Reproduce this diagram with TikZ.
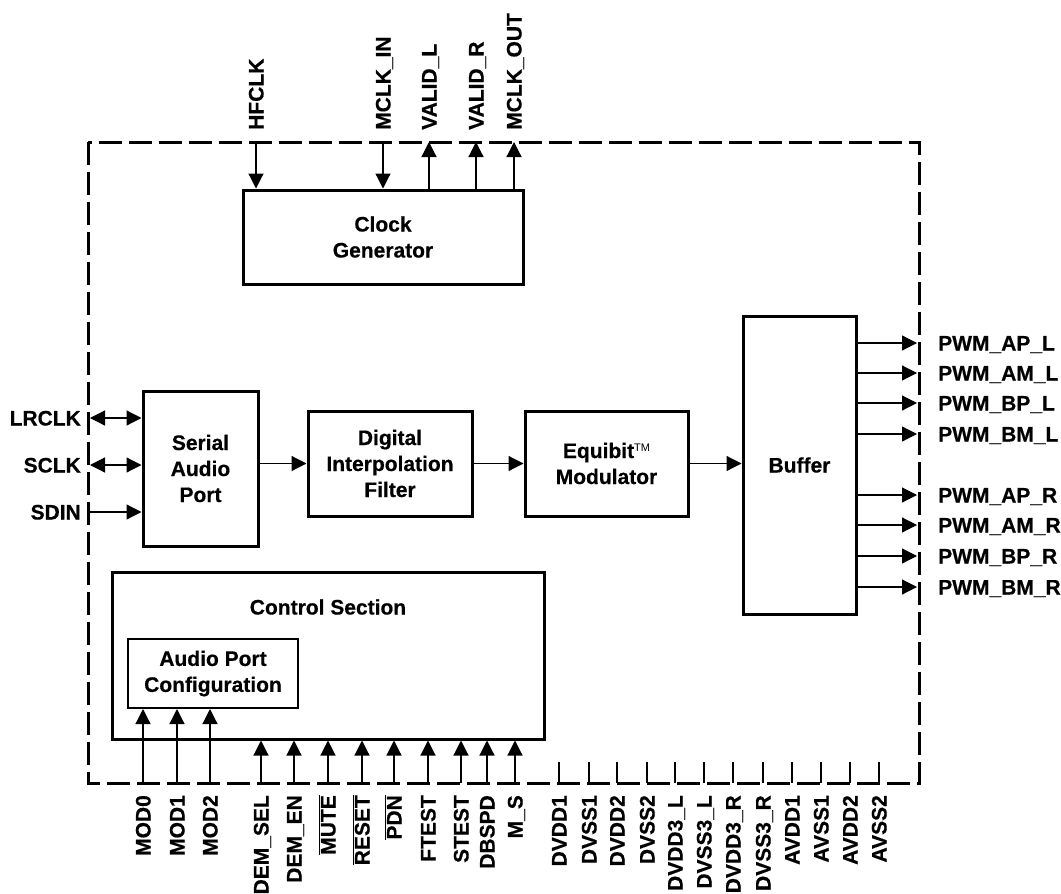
\documentclass[tikz,border=0pt]{standalone}
\usepackage{fontspec}
\setmainfont[BoldFeatures={FakeBold=0.5}]{Liberation Sans}
\usetikzlibrary{arrows.meta}
\newcommand\ovl[1]{$\overline{\hbox{#1}}$}
\tikzset{
  blk/.style={draw, line width=3pt, align=center, inner sep=0pt},
  wire/.style={line width=1.2pt},
  tri/.style={-{Triangle[length=15pt,width=15pt]}},
  dtri/.style={{Triangle[length=15pt,width=15pt]}-{Triangle[length=15pt,width=15pt]}},
  lbl/.style={inner sep=0pt, text height=15pt, text depth=0pt},
  border/.style={line width=3pt, dash pattern=on 23pt off 7pt},
}
\begin{document}
\begin{tikzpicture}[x=1pt,y=-1pt,font=\fontsize{21}{26}\selectfont\bfseries]
\useasboundingbox (0,0) rectangle (1061,894);
% border
\draw[border] (88,142) rectangle (919,783);
% blocks
\node[blk, minimum width=280pt, minimum height=94pt] (clk) at (383,237) {Clock\\Generator};
\node[blk, minimum width=115pt, minimum height=155pt] (sap) at (200.5,468.5) {Serial\\Audio\\Port};
\node[blk, minimum width=164pt, minimum height=105pt] (dif) at (390,463.5) {Digital\\Interpolation\\Filter};
\node[blk, minimum width=163pt, minimum height=105pt] (eqb) at (606.5,463.5) {Equibit{\mdseries\fontsize{11}{11}\selectfont\raisebox{7pt}{TM}}\\Modulator};
\node[blk, minimum width=113pt, minimum height=298pt] (buf) at (799.5,465) {Buffer};
\node[blk, minimum width=432pt, minimum height=167pt] (ctl) at (328,655.5) {};
\node (ctltxt) at (328,607) {Control Section};
\node[blk, line width=2pt, minimum width=170pt, minimum height=69pt] (apc) at (213,673.5) {Audio Port\\Configuration};
% main flow
\draw[wire,tri] (sap.east |- dif.west) -- (dif.west);
\draw[wire,tri] (dif.east) -- (eqb.west);
\draw[wire,tri] (eqb.east) -- (eqb.east -| buf.west);
% top pins
\foreach \n/\x/\t in {hf/256/HFCLK, mi/383/MCLK\_IN, vl/429/VALID\_L, vr/476/VALID\_R, mo/514/MCLK\_OUT}{
  \coordinate (\n) at (\x,142);
  \node[lbl, rotate=90, anchor=west] (\n lbl) at (\x,130) {\t};
}
\draw[wire,tri] (hf) -- (hf |- clk.north);
\draw[wire,tri] (mi) -- (mi |- clk.north);
\draw[wire,tri] (vl |- clk.north) -- (vl);
\draw[wire,tri] (vr |- clk.north) -- (vr);
\draw[wire,tri] (mo |- clk.north) -- (mo);
% left pins
\foreach \n/\y/\t in {lr/418/LRCLK, sc/465/SCLK, sd/512/SDIN}{
  \coordinate (\n) at (90,\y);
  \node[lbl, anchor=east] (\n lbl) at (81,\y) {\t};
}
\draw[wire,dtri] (lr) -- (lr -| sap.west);
\draw[wire,dtri] (sc) -- (sc -| sap.west);
\draw[wire,tri] (sd) -- (sd -| sap.west);
% right pins
\foreach \n/\y/\t in {o1/343/PWM\_AP\_L, o2/373/PWM\_AM\_L, o3/403/PWM\_BP\_L, o4/434/PWM\_BM\_L, o5/495/PWM\_AP\_R, o6/525/PWM\_AM\_R, o7/556/PWM\_BP\_R, o8/587/PWM\_BM\_R}{
  \coordinate (\n) at (917,\y);
  \node[lbl, anchor=west] (\n lbl) at (938,\y) {\t};
  \draw[wire,tri] (buf.east |- \n) -- (\n);
}
% bottom pins to audio port configuration
\foreach \n/\x/\t in {md0/143/MOD0, md1/177/MOD1, md2/210/MOD2}{
  \coordinate (\n) at (\x,783);
  \node[lbl, rotate=90, anchor=east] (\n lbl) at (\x,795) {\t};
  \draw[wire,tri] (\n) -- (\n |- apc.south);
}
% bottom pins to control section
\foreach \n/\x/\t in {ds/261/DEM\_SEL, de/294/DEM\_EN, mu/328/\ovl{MUTE}, rs/362/\ovl{RESET}, pd/394/\ovl{PDN}, ft/428/FTEST, st/461/STEST, db/487/DBSPD, ms/515/M\_S}{
  \coordinate (\n) at (\x,783);
  \node[lbl, rotate=90, anchor=east] (\n lbl) at (\x,795) {\t};
  \draw[wire,tri] (\n) -- (\n |- ctl.south);
}
% power pins
\foreach \n/\x/\t in {p1/559/DVDD1, p2/589/DVSS1, p3/617/DVDD2, p4/647/DVSS2, p5/675/DVDD3\_L, p6/704/DVSS3\_L, p7/733/DVDD3\_R, p8/763/DVSS3\_R, p9/792/AVDD1, p10/821/AVSS1, p11/850/AVDD2, p12/879/AVSS2}{
  \coordinate (\n) at (\x,783);
  \coordinate (\n t) at (\x,762);
  \node[lbl, rotate=90, anchor=east] (\n lbl) at (\x,795) {\t};
  \draw[wire] (\n t) -- (\n);
}
\end{tikzpicture}
\end{document}
